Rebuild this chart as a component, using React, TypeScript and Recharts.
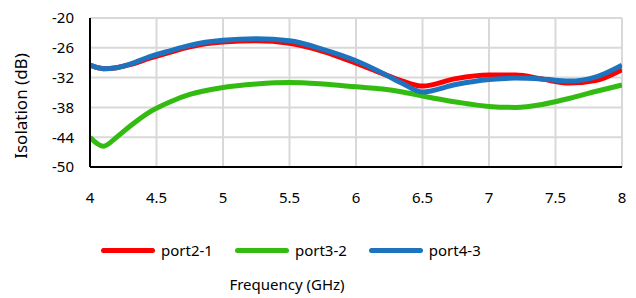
import { LineChart, Line, XAxis, YAxis, CartesianGrid, Legend } from "recharts";

const freq = [4, 4.1, 4.2, 4.3, 4.45, 4.6, 4.75, 5, 5.25, 5.5, 5.75, 6, 6.2, 6.35, 6.5, 6.75, 7, 7.2, 7.4, 7.6, 7.8, 8];

const port21 = [-29.5, -30.2, -30.0, -29.4, -28.1, -26.9, -25.8, -24.85, -24.6, -25.1, -26.7, -29.1, -31.2, -32.7, -33.7, -32.2, -31.5, -31.5, -32.3, -33.1, -32.6, -30.4];
const port32 = [-44.0, -45.8, -44.0, -41.8, -38.9, -36.9, -35.4, -34.0, -33.3, -33.0, -33.3, -33.85, -34.3, -34.9, -35.7, -36.9, -37.8, -38.0, -37.4, -36.2, -34.8, -33.5];
const port43 = [-29.5, -30.2, -30.0, -29.3, -27.8, -26.6, -25.5, -24.5, -24.2, -24.6, -26.3, -28.6, -31.1, -33.2, -34.9, -33.4, -32.4, -32.1, -32.3, -32.7, -31.9, -29.5];

const xTicks = [4, 4.5, 5, 5.5, 6, 6.5, 7, 7.5, 8];
const yTicks = [-50, -44, -38, -32, -26, -20];

const series = [
  { key: "port2-1", color: "#ff0000" },
  { key: "port3-2", color: "#33bb11" },
  { key: "port4-3", color: "#1e73be" },
];

const data = freq.map((f, i) => ({
  f,
  "port2-1": port21[i],
  "port3-2": port32[i],
  "port4-3": port43[i],
}));

const FONT = "'Noto Sans', sans-serif";

function LegendRow() {
  return (
    <div style={{ display: "flex", alignItems: "center", fontFamily: FONT, fontSize: 15, color: "#000" }}>
      {series.map((s) => (
        <div key={s.key} style={{ display: "flex", alignItems: "center", marginRight: 22 }}>
          <div style={{ width: 54, height: 5, borderRadius: 3, background: s.color, marginRight: 6 }} />
          <span>{s.key}</span>
        </div>
      ))}
    </div>
  );
}

export default function App() {
  return (
    <div style={{ position: "absolute", left: 0, top: 0, width: 636, height: 298, background: "#fff" }}>
      <LineChart width={636} height={298} data={data} margin={{ top: 18, right: 14, bottom: 81, left: 0 }}>
        <CartesianGrid stroke="#d9d9d9" strokeWidth={2} />
        <XAxis
          dataKey="f"
          type="number"
          domain={[4, 8]}
          ticks={xTicks}
          tickLine={false}
          axisLine={{ stroke: "#000", strokeWidth: 2 }}
          tickMargin={19}
          height={30}
          tick={{ fill: "#000", fontSize: 15, fontFamily: FONT }}
          allowDataOverflow
        />
        <YAxis
          type="number"
          domain={[-50, -20]}
          ticks={yTicks}
          tickLine={false}
          axisLine={{ stroke: "#000", strokeWidth: 2 }}
          tickMargin={10}
          width={90}
          tick={{ fill: "#000", fontSize: 15, fontFamily: FONT }}
          label={{
            content: () => (
              <text
                x={27}
                y={106}
                transform="rotate(-90 27 106)"
                textAnchor="middle"
                fontSize={17}
                fontFamily={FONT}
                fill="#000"
              >
                Isolation (dB)
              </text>
            ),
          }}
        />
        {/* top and right frame */}
        <XAxis xAxisId="top" orientation="top" type="number" domain={[4, 8]} tick={false} tickLine={false} height={0} axisLine={{ stroke: "#000", strokeWidth: 2 }} />
        <YAxis yAxisId="right" orientation="right" tick={false} tickLine={false} width={0} axisLine={{ stroke: "#000", strokeWidth: 2 }} />
        {series.map((s) => (
          <Line
            key={s.key}
            dataKey={s.key}
            type="monotone"
            stroke={s.color}
            strokeWidth={5}
            dot={false}
            isAnimationActive={false}
          />
        ))}
        <Legend content={() => <LegendRow />} wrapperStyle={{ left: 101, top: 240, width: 420, bottom: "auto" }} />
      </LineChart>
      <div
        style={{
          position: "absolute",
          left: 187,
          width: 200,
          top: 274,
          textAlign: "center",
          fontFamily: FONT,
          fontSize: 15,
          color: "#000",
        }}
      >
        Frequency (GHz)
      </div>
    </div>
  );
}
